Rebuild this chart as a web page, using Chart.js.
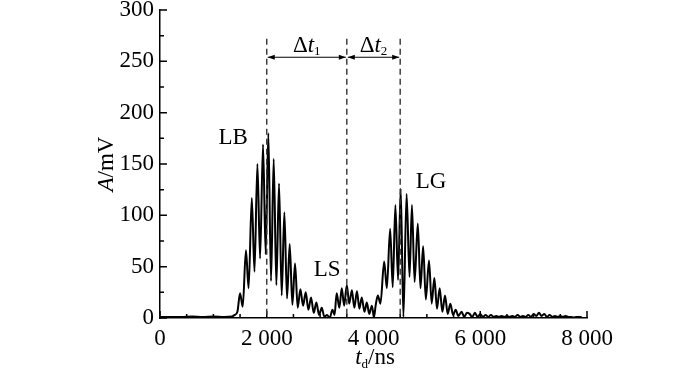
<!DOCTYPE html>
<html>
<head>
<meta charset="utf-8">
<script src="https://cdn.jsdelivr.net/npm/chart.js@4.4.1/dist/chart.umd.min.js"></script>
<style>
  body { margin: 0; background: #fff; }
  #wrap { width: 700px; height: 370px; }
</style>
</head>
<body>
<div id="wrap"><canvas id="pulse"></canvas></div>
<script>
// signal: time in ns, amplitude in mV
const timeNs = [
  0, 200, 400, 600, 800, 1000, 1200, 1350, 1400, 1450,
  1500, 1550, 1610, 1660, 1720, 1770, 1825, 1875, 1930, 1980,
  2030, 2080, 2130, 2180, 2230, 2280, 2330, 2380, 2430, 2480,
  2530, 2580, 2630, 2680, 2730, 2780, 2830, 2880, 2930, 2980,
  3030, 3080, 3130, 3180,
  3230, 3270, 3310, 3360, 3405, 3450, 3500, 3545, 3595, 3640,
  3690, 3735, 3780, 3830, 3875, 3920, 3970, 4010,
  4040, 4081, 4130, 4200, 4250, 4312, 4360, 4410, 4460, 4510,
  4560, 4620, 4675, 4720, 4770, 4830, 4880, 4930, 4980, 5040,
  5090, 5140, 5190, 5240, 5290, 5340, 5390, 5440, 5490, 5540,
  5590, 5650, 5700, 5750,
  5800, 5850, 5900, 5950, 6000, 6050, 6100, 6150, 6200, 6250,
  6300, 6350, 6400, 6450, 6500, 6550, 6600, 6650, 6700, 6750,
  6800, 6850, 6900, 6950, 7000, 7050, 7100, 7150, 7200, 7250,
  7300, 7350, 7400, 7450, 7500, 7550, 7600, 7650, 7700, 7750,
  7800, 7900
];
const amplitudeMv = [
  1, 1, 1, 1.5, 1, 1.5, 1, 1.5, 3, 6,
  24, 11, 66, 29, 117, 45, 150, 58, 169, 62,
  180, 36, 155, 32, 131, 22, 103, 19, 72, 13,
  53, 10, 28, 12, 25, 8, 20, 5, 15, 3,
  10, 1, 3, 0,
  8, 3, 24, 10, 29, 12, 32, 14, 27, 10,
  26, 9, 20, 6, 15, 4, 12, 1,
  12, 22, 14, 55, 29, 87, 30, 110, 37, 126,
  1, 121, 40, 110, 35, 92, 29, 70, 18, 56,
  14, 39, 9, 29, 6, 22, 4, 14, 3, 8,
  2, 6, 1, 5,
  4, 1, 5, 1, 4, 1, 3, 1, 3, 1,
  2, 1, 2, 1, 2, 1, 2, 1, 3, 1,
  2, 1, 3, 1, 4, 2, 5, 2, 4, 1,
  3, 1, 2, 1, 2, 1, 2, 1, 1, 0.5,
  1, 1
];

const yTickValues = [0, 50, 100, 150, 200, 250, 300];
const yMinorValues = [25, 75, 125, 175, 225, 275];
const xTickValues = [0, 2000, 4000, 6000, 8000];
const xMinorValues = [500, 1000, 1500, 2500, 3000, 3500, 4500, 5000, 5500, 6500, 7000, 7500];

// marker times for the dashed lines and the interval arrows
const markerTimes = [2000, 3500, 4500];
const markerTop = 272;
const arrowLevel = 254;
const peakLabels = ['LB', 'LS', 'LG'];
const peakLabelX = [1370, 3130, 5080];
const peakLabelY = [175, 47, 133];

const serif = '"Liberation Serif", "DejaVu Serif", serif';
const fs = 23;

function spaced(v) {
  if (v < 1000) return String(v);
  return Math.floor(v / 1000) + ' ' + String(v % 1000).padStart(3, '0');
}

// draws text pieces side by side: [text, size, italic, dy]
function drawPieces(ctx, pieces, cx, cy) {
  let total = 0;
  pieces.forEach(p => {
    ctx.font = (p[2] ? 'italic ' : '') + p[1] + 'px ' + serif;
    total += ctx.measureText(p[0]).width;
  });
  let x = cx - total / 2;
  pieces.forEach(p => {
    ctx.font = (p[2] ? 'italic ' : '') + p[1] + 'px ' + serif;
    ctx.fillText(p[0], x, cy + (p[3] || 0));
    x += ctx.measureText(p[0]).width;
  });
}

function arrowHead(ctx, x, y, dir) {
  ctx.beginPath();
  ctx.moveTo(x, y);
  ctx.lineTo(x - dir * 7, y - 2.5);
  ctx.lineTo(x - dir * 7, y + 2.5);
  ctx.closePath();
  ctx.fill();
}

const extras = {
  id: 'extras',
  afterDraw(chart) {
    const ctx = chart.ctx;
    const xs = chart.scales.x;
    const ys = chart.scales.y;
    const left = chart.chartArea.left;
    const bottom = chart.chartArea.bottom;
    ctx.save();
    ctx.strokeStyle = '#000';
    ctx.fillStyle = '#000';
    ctx.lineWidth = 1.5;

    // inward ticks
    ctx.beginPath();
    yTickValues.forEach(v => { const p = ys.getPixelForValue(v); ctx.moveTo(left, p); ctx.lineTo(left + 7, p); });
    yMinorValues.forEach(v => { const p = ys.getPixelForValue(v); ctx.moveTo(left, p); ctx.lineTo(left + 4, p); });
    xTickValues.forEach(v => { const p = xs.getPixelForValue(v); ctx.moveTo(p, bottom); ctx.lineTo(p, bottom - 7); });
    xMinorValues.forEach(v => { const p = xs.getPixelForValue(v); ctx.moveTo(p, bottom); ctx.lineTo(p, bottom - 4); });
    ctx.stroke();

    // dashed markers
    ctx.strokeStyle = '#333';
    ctx.lineWidth = 1.4;
    ctx.setLineDash([6, 4]);
    ctx.beginPath();
    markerTimes.forEach(t => {
      const p = xs.getPixelForValue(t);
      ctx.moveTo(p, ys.getPixelForValue(markerTop));
      ctx.lineTo(p, bottom);
    });
    ctx.stroke();
    ctx.setLineDash([]);

    // interval arrows
    ctx.strokeStyle = '#000';
    ctx.lineWidth = 1.2;
    const ay = ys.getPixelForValue(arrowLevel);
    for (let i = 0; i < markerTimes.length - 1; i++) {
      const a = xs.getPixelForValue(markerTimes[i]);
      const b = xs.getPixelForValue(markerTimes[i + 1]);
      ctx.beginPath();
      ctx.moveTo(a + 1, ay);
      ctx.lineTo(b - 1, ay);
      ctx.stroke();
      arrowHead(ctx, a + 1, ay, -1);
      arrowHead(ctx, b - 1, ay, 1);
      ctx.textBaseline = 'alphabetic';
      drawPieces(ctx, [['Δ', fs, false], ['t', fs, true], [String(i + 1), 13, false, 3]], (a + b) / 2, ay - 5);
    }

    // peak names
    ctx.textBaseline = 'middle';
    ctx.textAlign = 'center';
    ctx.font = fs + 'px ' + serif;
    peakLabels.forEach((s, i) => {
      ctx.fillText(s, xs.getPixelForValue(peakLabelX[i]), ys.getPixelForValue(peakLabelY[i]));
    });

    // axis titles
    ctx.textAlign = 'left';
    ctx.textBaseline = 'alphabetic';
    drawPieces(ctx, [['t', fs, true], ['d', 13, false, 4], ['/ns', fs, false]], 375, 364);
    ctx.translate(113, ys.getPixelForValue(150));
    ctx.rotate(-Math.PI / 2);
    drawPieces(ctx, [['A', fs, true], ['/mV', fs, false]], 0, 0);
    ctx.restore();
  }
};

new Chart(document.getElementById('pulse'), {
  type: 'line',
  data: {
    datasets: [{
      data: timeNs.map((t, i) => ({ x: t, y: amplitudeMv[i] })),
      borderColor: '#000',
      borderWidth: 2,
      pointRadius: 0,
      cubicInterpolationMode: 'monotone',
      fill: false
    }]
  },
  options: {
    responsive: true,
    maintainAspectRatio: false,
    animation: false,
    layout: { padding: { top: 10, right: 113, left: 0, bottom: 0 } },
    plugins: { legend: { display: false }, tooltip: { enabled: false } },
    scales: {
      x: {
        type: 'linear',
        min: 0,
        max: 8000,
        afterBuildTicks: s => { s.ticks = xTickValues.map(v => ({ value: v })); },
        afterFit: s => { s.height = 52; s.paddingLeft = 0; s.paddingRight = 0; },
        grid: { display: false, drawTicks: false },
        border: { display: true, color: '#000', width: 1.5 },
        ticks: { color: '#000', padding: 7, maxRotation: 0, font: { size: fs, family: serif }, callback: v => spaced(v) }
      },
      y: {
        min: 0,
        max: 300,
        afterBuildTicks: s => { s.ticks = yTickValues.map(v => ({ value: v })); },
        afterFit: s => { s.width = 160; s.paddingTop = 0; s.paddingBottom = 0; },
        grid: { display: false, drawTicks: false },
        border: { display: true, color: '#000', width: 1.5 },
        ticks: { color: '#000', padding: 6, font: { size: fs, family: serif } }
      }
    }
  },
  plugins: [extras]
});
</script>
</body>
</html>
